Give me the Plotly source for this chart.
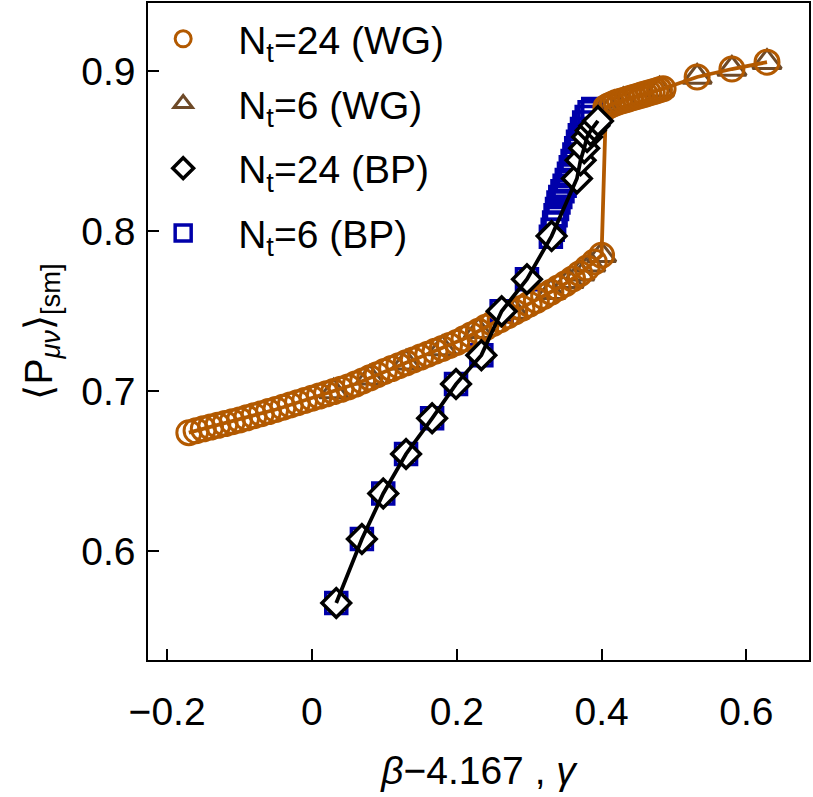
import plotly.graph_objects as go

# ---------------- data ----------------
# Wilson gradient flow, N_t = 24 (circles)
wg24_x = [-0.17, -0.16, -0.15, -0.14, -0.13, -0.12, -0.11, -0.10, -0.09, -0.08,
          -0.07, -0.06, -0.05, -0.04, -0.03, -0.02, -0.01, 0.00, 0.01, 0.02,
          0.03, 0.04, 0.05, 0.06, 0.07, 0.08, 0.09, 0.10, 0.11, 0.12,
          0.13, 0.14, 0.15, 0.16, 0.17, 0.18, 0.19, 0.20, 0.21, 0.22,
          0.23, 0.24, 0.25, 0.26, 0.27, 0.28, 0.29, 0.30, 0.31, 0.32,
          0.33, 0.34, 0.35, 0.36, 0.37, 0.38, 0.39, 0.40,
          0.406, 0.41, 0.415, 0.42, 0.425, 0.43, 0.435, 0.44, 0.445, 0.45,
          0.455, 0.46, 0.465, 0.47, 0.475, 0.48, 0.485,
          0.532, 0.580, 0.6285]
wg24_y = [0.6740, 0.6752, 0.6764, 0.6775, 0.6786, 0.6797, 0.6809, 0.6820, 0.6833, 0.6846,
          0.6859, 0.6872, 0.6885, 0.6899, 0.6913, 0.6927, 0.6941, 0.6955, 0.6969, 0.6983,
          0.6997, 0.7011, 0.7026, 0.7044, 0.7063, 0.7083, 0.7103, 0.7123, 0.7141, 0.7159,
          0.7177, 0.7195, 0.7213, 0.7231, 0.7249, 0.7267, 0.7285, 0.7304, 0.7327, 0.7351,
          0.7375, 0.7399, 0.7423, 0.7447, 0.7471, 0.7495, 0.7519, 0.7544, 0.7568, 0.7593,
          0.7619, 0.7645, 0.7672, 0.7702, 0.7735, 0.7770, 0.7808, 0.7850,
          0.8775, 0.8785, 0.8795, 0.8805, 0.8812, 0.8818, 0.8825, 0.8832, 0.8838, 0.8845,
          0.8852, 0.8858, 0.8865, 0.8872, 0.8878, 0.8885, 0.8892,
          0.8965, 0.9015, 0.9058]

# Wilson gradient flow, N_t = 6 (triangles)
wg6_x = [0.03, 0.08, 0.13, 0.18, 0.23, 0.28, 0.33, 0.355, 0.37, 0.385, 0.40,
         0.408, 0.418, 0.43, 0.48, 0.532, 0.580, 0.6285]
wg6_y = [0.6997, 0.7083, 0.7177, 0.7267, 0.7375, 0.7495, 0.7619, 0.7688, 0.7735, 0.7790, 0.7850,
         0.8780, 0.8800, 0.8818, 0.8885, 0.8965, 0.9015, 0.9058]

# Bare plaquette, N_t = 24 (diamonds)
bp24_x = [0.0336, 0.069, 0.0985, 0.130, 0.166, 0.199, 0.234, 0.262, 0.297, 0.331,
          0.366, 0.371, 0.376, 0.380, 0.385, 0.390, 0.395]
bp24_y = [0.5675, 0.6075, 0.636, 0.6607, 0.683, 0.7044, 0.7225, 0.750, 0.770, 0.797,
          0.833, 0.8445, 0.852, 0.859, 0.863, 0.866, 0.869]

# Bare plaquette, N_t = 6 (squares)
bp6_x = [0.0336, 0.069, 0.0985, 0.130, 0.166, 0.199, 0.234, 0.262, 0.297,
         0.3300, 0.3325, 0.3345, 0.3365, 0.3385, 0.3405, 0.3430, 0.3460, 0.3490, 0.3520,
         0.3550, 0.3575, 0.3600, 0.3625, 0.3650, 0.3675, 0.3700, 0.3730, 0.3760, 0.3795,
         0.3835, 0.3885]
bp6_y = [0.5675, 0.6075, 0.636, 0.6607, 0.683, 0.7044, 0.7225, 0.750, 0.770,
         0.7966, 0.8010, 0.8055, 0.8100, 0.8140, 0.8180, 0.8215, 0.8250, 0.8285, 0.8320,
         0.8360, 0.8400, 0.8440, 0.8480, 0.8520, 0.8560, 0.8600, 0.8640, 0.8680, 0.8715,
         0.8745, 0.8765]

x_ticks = [-0.2, 0.0, 0.2, 0.4, 0.6]
x_ticktext = ["\u22120.2", "0", "0.2", "0.4", "0.6"]
y_ticks = [0.6, 0.7, 0.8, 0.9]
y_ticktext = ["0.6", "0.7", "0.8", "0.9"]

names = ["N<sub>t</sub>=24 (WG)", "N<sub>t</sub>=6 (WG)",
         "N<sub>t</sub>=24 (BP)", "N<sub>t</sub>=6 (BP)"]

ORANGE = "rgb(178,89,0)"
BROWN = "rgb(110,74,40)"
BLUE = "rgb(0,0,170)"
BLACK = "black"

FONT = "Liberation Sans, Arial, sans-serif"

fig = go.Figure()

# BP N_t=6 squares (bottom layer)
fig.add_trace(go.Scatter(
    x=bp6_x, y=bp6_y, mode="markers", name=names[3], legendrank=4, legendgroup="g4",
    marker=dict(symbol="square-open", size=21, color=BLUE, line=dict(width=3.5, color=BLUE)),
))
# WG N_t=6 triangles
fig.add_trace(go.Scatter(
    x=wg6_x, y=wg6_y, mode="markers", name=names[1], legendrank=2, legendgroup="g2",
    marker=dict(symbol="triangle-up-open", size=25, color=BROWN, line=dict(width=3, color=BROWN)),
))
# WG N_t=24 circles
fig.add_trace(go.Scatter(
    x=wg24_x, y=wg24_y, mode="markers", name=names[0], legendrank=1, legendgroup="g1",
    marker=dict(symbol="circle-open", size=24, color=ORANGE, line=dict(width=3, color=ORANGE)),
))
# WG line
fig.add_trace(go.Scatter(
    x=wg24_x, y=wg24_y, mode="lines", showlegend=False, hoverinfo="skip",
    line=dict(color=ORANGE, width=3.8),
))
# BP N_t=24 diamonds
fig.add_trace(go.Scatter(
    x=bp24_x, y=bp24_y, mode="markers", name=names[2], legendrank=3, legendgroup="g3",
    marker=dict(symbol="diamond", size=22, color="white", line=dict(width=3.5, color=BLACK)),
))
# BP line
fig.add_trace(go.Scatter(
    x=bp24_x, y=bp24_y, mode="lines", showlegend=False, hoverinfo="skip",
    line=dict(color=BLACK, width=3.8),
))

axis_common = dict(
    showline=True, linecolor="black", linewidth=1.5, mirror=True,
    ticks="inside", ticklen=11, tickwidth=1.5, tickcolor="black",
    showgrid=False, zeroline=False,
    tickfont=dict(family=FONT, size=39, color="black"),
)

fig.update_xaxes(
    range=[-0.2264, 0.6865], tickvals=x_ticks, ticktext=x_ticktext,
    ticklabelstandoff=16,
    title=dict(text="<i>\u03b2</i>\u22124.167 , <i>\u03b3</i>",
               font=dict(family=FONT, size=39, color="black"), standoff=25),
    **axis_common,
)
fig.update_yaxes(
    range=[0.5318, 0.9428], tickvals=y_ticks, ticktext=y_ticktext,
    ticklabelstandoff=3,
    title=dict(text="\u27e8P<sub><i>\u03bc\u03bd</i></sub>\u27e9<sub>[sm]</sub>",
               font=dict(family=FONT, size=39, color="black"), standoff=17),
    **axis_common,
)

fig.update_layout(
    width=813, height=797,
    margin=dict(l=148, r=4, t=3, b=137, autoexpand=False),
    plot_bgcolor="white", paper_bgcolor="white",
    font=dict(family=FONT, size=39, color="black"),
    legend=dict(
        x=-0.030, y=0.994, xanchor="left", yanchor="top",
        bgcolor="rgba(0,0,0,0)", borderwidth=0,
        font=dict(family=FONT, size=39, color="black"),
        itemwidth=100, tracegroupgap=11,
    ),
    showlegend=True,
)

fig.write_html("out.html", config={"displayModeBar": False},
               post_script="document.body.style.margin='0px';")
